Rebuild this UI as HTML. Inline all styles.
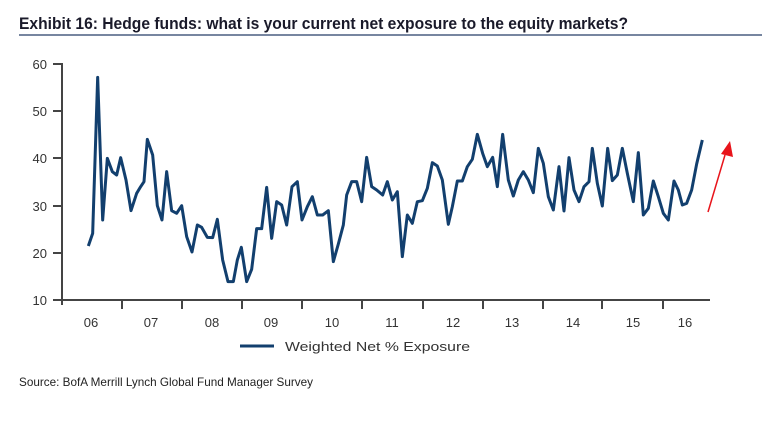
<!DOCTYPE html>
<html><head><meta charset="utf-8"><style>
html,body{margin:0;padding:0;background:#fff;}
</style></head><body>
<svg width="781" height="437" viewBox="0 0 781 437" xmlns="http://www.w3.org/2000/svg" font-family="Liberation Sans, sans-serif">
<rect width="781" height="437" fill="#fff"/>
<text x="19" y="29" font-size="17" font-weight="bold" fill="#1a1a2a" textLength="609" lengthAdjust="spacingAndGlyphs">Exhibit 16: Hedge funds: what is your current net exposure to the equity markets?</text>
<line x1="19" y1="35" x2="762" y2="35" stroke="#4a5f80" stroke-width="1.5"/>
<g stroke="#444" stroke-width="2" fill="none">
<line x1="62" y1="63" x2="62" y2="305"/>
<line x1="62" y1="300" x2="710" y2="300"/>
<line x1="53" y1="64" x2="62" y2="64"/>
<line x1="53" y1="111" x2="62" y2="111"/>
<line x1="53" y1="158" x2="62" y2="158"/>
<line x1="53" y1="206" x2="62" y2="206"/>
<line x1="53" y1="253" x2="62" y2="253"/>
<line x1="53" y1="300" x2="62" y2="300"/>
<line x1="122" y1="300" x2="122" y2="309"/>
<line x1="182" y1="300" x2="182" y2="309"/>
<line x1="242" y1="300" x2="242" y2="309"/>
<line x1="302" y1="300" x2="302" y2="309"/>
<line x1="362" y1="300" x2="362" y2="309"/>
<line x1="423" y1="300" x2="423" y2="309"/>
<line x1="483" y1="300" x2="483" y2="309"/>
<line x1="543" y1="300" x2="543" y2="309"/>
<line x1="602" y1="300" x2="602" y2="309"/>
<line x1="663" y1="300" x2="663" y2="309"/>
</g>
<g font-size="13" fill="#333" text-anchor="end">
<text x="47" y="69">60</text><text x="47" y="116">50</text><text x="47" y="163">40</text>
<text x="47" y="211">30</text><text x="47" y="258">20</text><text x="47" y="305">10</text>
</g>
<g font-size="13" fill="#333" text-anchor="middle">
<text x="91" y="327">06</text><text x="151" y="327">07</text><text x="212" y="327">08</text>
<text x="271" y="327">09</text><text x="332" y="327">10</text><text x="392" y="327">11</text>
<text x="453" y="327">12</text><text x="512" y="327">13</text><text x="573" y="327">14</text>
<text x="633" y="327">15</text><text x="685" y="327">16</text>
</g>
<g transform="translate(0,40) scale(0.33333)">
<polyline fill="none" stroke="#123f6e" stroke-width="9" stroke-linejoin="round" points="265,618 278,580 293,112 308,540 322,355 337,395 350,405 362,353 378,420 393,512 410,460 422,440 432,425 442,298 458,345 472,497 486,540 500,395 515,512 530,520 545,497 560,590 576,636 592,555 605,562 622,592 638,593 652,538 668,660 684,725 700,725 712,660 724,622 740,725 755,688 770,566 785,566 800,442 815,595 830,485 845,495 860,555 876,440 892,425 906,540 922,500 937,470 952,525 968,525 985,512 1000,665 1015,612 1030,555 1040,465 1055,425 1070,425 1085,485 1100,352 1115,440 1130,450 1148,465 1162,425 1177,480 1192,455 1207,650 1222,525 1237,550 1252,485 1267,482 1282,445 1297,368 1312,378 1327,420 1345,553 1357,500 1372,423 1387,423 1402,380 1417,358 1432,283 1448,340 1462,380 1478,352 1492,440 1508,283 1525,420 1540,468 1555,420 1570,395 1585,420 1600,458 1615,325 1630,370 1645,470 1660,510 1677,380 1692,513 1707,353 1722,450 1737,485 1752,440 1767,425 1777,325 1792,430 1807,498 1823,325 1837,422 1852,405 1867,325 1882,400 1900,485 1915,338 1930,525 1945,505 1960,423 1975,470 1990,520 2005,540 2022,423 2035,450 2047,495 2060,490 2075,450 2090,372 2107,300"/>
</g>
<line x1="708" y1="212" x2="725" y2="155" stroke="#e8141b" stroke-width="1.5"/>
<polygon points="730,141 733,157 721,154" fill="#e8141b"/>
<line x1="240" y1="346" x2="274" y2="346" stroke="#123f6e" stroke-width="3"/>
<text x="285" y="351" font-size="13" fill="#333" textLength="185" lengthAdjust="spacingAndGlyphs">Weighted Net % Exposure</text>
<text x="19" y="386" font-size="12" fill="#222" textLength="294" lengthAdjust="spacingAndGlyphs">Source: BofA Merrill Lynch Global Fund Manager Survey</text>
</svg>
</body></html>
